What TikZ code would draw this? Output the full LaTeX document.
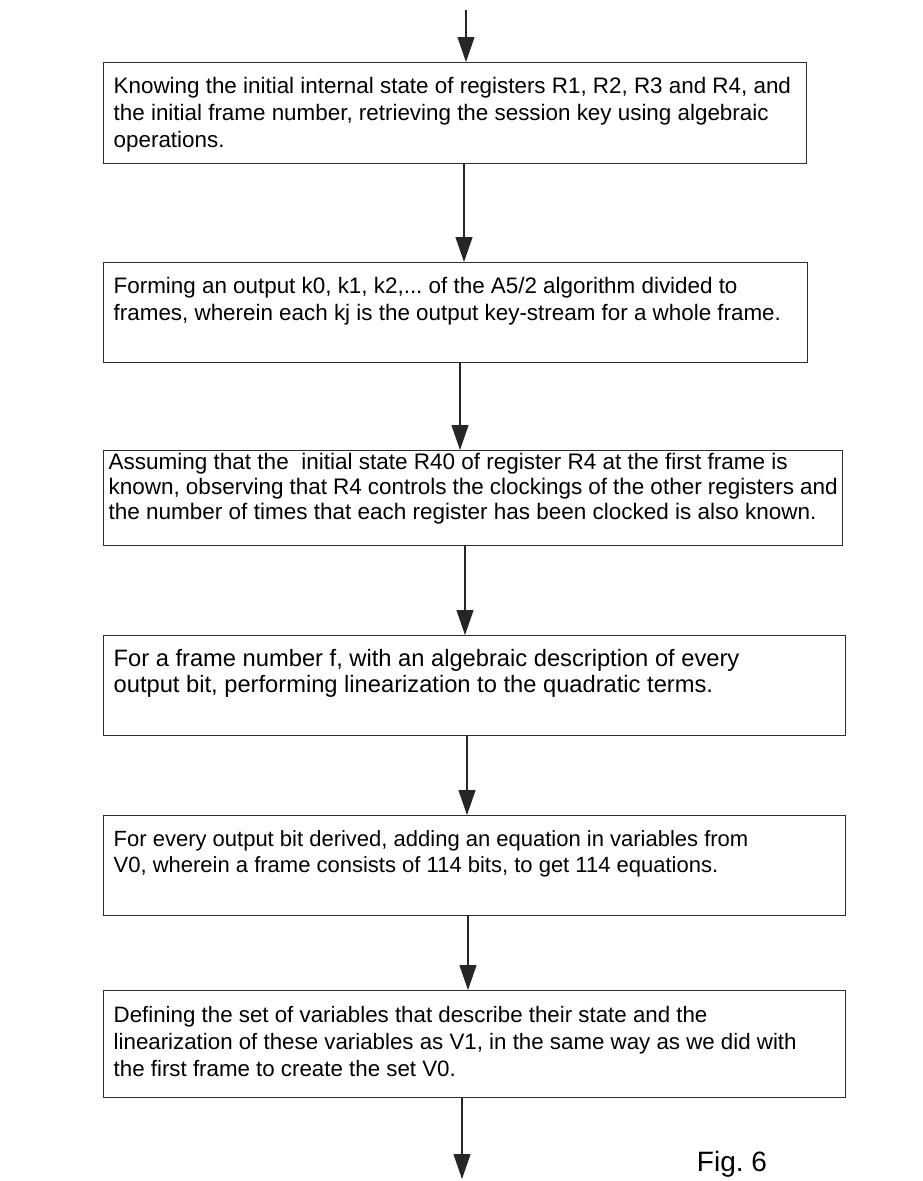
\documentclass[tikz,border=0pt]{standalone}
\usepackage{fontspec}
\setmainfont{Liberation Sans}
\usetikzlibrary{arrows.meta}
% box body: height, text width, top padding, font size, line spacing, text
\newcommand\steptext[6]{\parbox[c][#1][t]{#2}{\fontsize{#4}{#5}\selectfont\frenchspacing\hbadness=10000\hfuzz=60pt\raggedright\vspace*{#3}\strut #6}}
\begin{document}
\begin{tikzpicture}[x=1pt,y=1pt,
  stepbox/.style={draw=black!82, line width=1.4pt, anchor=north west, inner xsep=10pt, inner ysep=0pt},
  flow/.style={draw=black!85, line width=1.1pt, -{Triangle[length=25pt,width=17pt]}}]
\useasboundingbox (0,0) rectangle (922,-1181);
\fill[white] (0,0) rectangle (922,-1181);

% process steps
\node[stepbox] (b1) at (103,-62) {\steptext{101pt}{683pt}{12pt}{22.4}{27}{Knowing the initial internal state of registers R1, R2, R3 and R4, and\\ the initial frame number, retrieving the session key using algebraic\\ operations.}};
\node[stepbox] (b2) at (103,-262) {\steptext{100pt}{684pt}{12pt}{22.4}{27}{Forming an output k0, k1, k2,... of the A5/2 algorithm divided to\\ frames, wherein each kj is the output key-stream for a whole frame.}};
\node[stepbox, inner xsep=5pt] (b3) at (103,-450) {\steptext{95pt}{729pt}{1.5pt}{22.5}{25}{Assuming that the \ initial state R40 of register R4 at the first frame is\\ known, observing that R4 controls the clockings of the other registers and\\ the number of times that each register has been clocked is also known.}};
\node[stepbox] (b4) at (103,-635) {\steptext{100pt}{722pt}{13pt}{23.7}{26}{For a frame number f, with an algebraic description of every\\ output bit, performing linearization to the quadratic terms.}};
\node[stepbox] (b5) at (103,-815) {\steptext{100pt}{722pt}{13pt}{22}{26}{For every output bit derived, adding an equation in variables from\\ V0, wherein a frame consists of 114 bits, to get 114 equations.}};
\node[stepbox] (b6) at (103,-990) {\steptext{107pt}{722pt}{13pt}{22.3}{27}{Defining the set of variables that describe their state and the\\ linearization of these variables as V1, in the same way as we did with\\ the first frame to create the set V0.}};

% figure caption
\node[font=\fontsize{28}{32}\selectfont\frenchspacing] (cap) at (732,-1164) {Fig. 6};

% connector columns and free ends
\coordinate (c0) at (466,-10);
\coordinate (c1) at (464,0);
\coordinate (c2) at (460,0);
\coordinate (c3) at (465,0);
\coordinate (c4) at (467,0);
\coordinate (c5) at (468,0);
\coordinate (c6) at (462,-1179);

\draw[flow] (c0) -- (b1.north -| c0);
\draw[flow] (b1.south -| c1) -- (b2.north -| c1);
\draw[flow] (b2.south -| c2) -- (b3.north -| c2);
\draw[flow] (b3.south -| c3) -- (b4.north -| c3);
\draw[flow] (b4.south -| c4) -- (b5.north -| c4);
\draw[flow] (b5.south -| c5) -- (b6.north -| c5);
\draw[flow] (b6.south -| c6) -- (c6);
\end{tikzpicture}
\end{document}
